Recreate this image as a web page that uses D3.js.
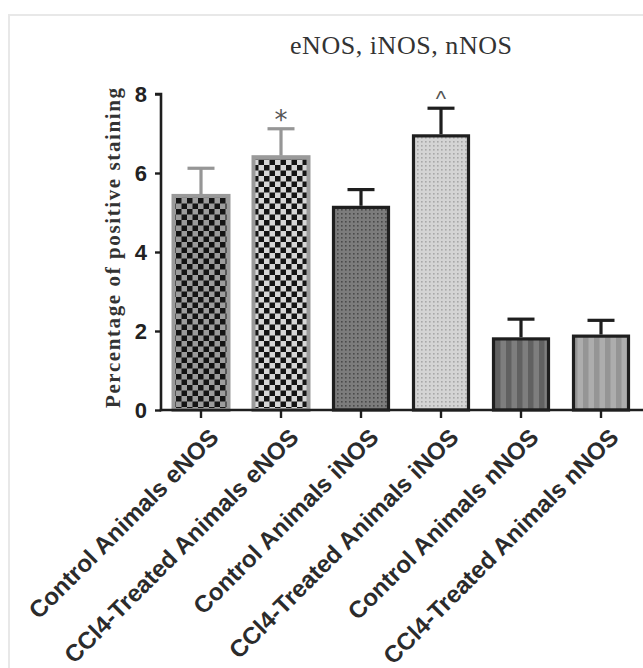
<!DOCTYPE html>
<html>
<head>
<meta charset="utf-8">
<script src="https://cdn.jsdelivr.net/npm/d3@7"></script>
<style>
  html, body { margin: 0; padding: 0; background: #fff; }
  svg { display: block; }
</style>
</head>
<body>
<script>
// ---- data ----
const categories = [
  "Control Animals eNOS",
  "CCl4-Treated Animals eNOS",
  "Control Animals iNOS",
  "CCl4-Treated Animals iNOS",
  "Control Animals nNOS",
  "CCl4-Treated Animals nNOS"
];
const means  = [5.42, 6.40, 5.13, 6.94, 1.80, 1.87];
const errors = [0.70, 0.72, 0.45, 0.70, 0.50, 0.40];
const marks  = ["", "*", "", "^", "", ""];
const yTicks = [0, 2, 4, 6, 8];
const title = "eNOS, iNOS, nNOS";
const yTitle = "Percentage of positive staining";

// ---- styling (not data) ----
const W = 643, H = 668;
const svg = d3.select("body").append("svg").attr("width", W).attr("height", H);

// frame
svg.append("rect").attr("x", 9).attr("y", 15).attr("width", 700).attr("height", 700)
  .attr("fill", "none").attr("stroke", "#e8e8e8").attr("stroke-width", 2);

const defs = svg.append("defs");
function checker(id, light) {
  const p = defs.append("pattern").attr("id", id).attr("patternUnits", "userSpaceOnUse")
    .attr("width", 11).attr("height", 11);
  p.append("rect").attr("width", 11).attr("height", 11).attr("fill", light);
  p.append("rect").attr("width", 5.5).attr("height", 5.5).attr("fill", "#141414");
  p.append("rect").attr("x", 5.5).attr("y", 5.5).attr("width", 5.5).attr("height", 5.5).attr("fill", "#141414");
}
function dots(id, bg, dot) {
  const p = defs.append("pattern").attr("id", id).attr("patternUnits", "userSpaceOnUse")
    .attr("width", 4).attr("height", 4);
  p.append("rect").attr("width", 4).attr("height", 4).attr("fill", bg);
  p.append("rect").attr("x", 1).attr("y", 1).attr("width", 1.6).attr("height", 1.6).attr("fill", dot);
}
function stripes(id, a, b) {
  const p = defs.append("pattern").attr("id", id).attr("patternUnits", "userSpaceOnUse")
    .attr("width", 11).attr("height", 10);
  p.append("rect").attr("width", 11).attr("height", 10).attr("fill", a);
  p.append("rect").attr("x", 5.5).attr("width", 5.5).attr("height", 10).attr("fill", b);
}
checker("p0", "#9c9c9c");
checker("p1", "#d6d6d6");
dots("p2", "#7c7c7c", "#4a4a4a");
dots("p3", "#d4d4d4", "#a8a8a8");
stripes("p4", "#616161", "#7e7e7e");
stripes("p5", "#959595", "#adadad");
const fills = ["url(#p0)", "url(#p1)", "url(#p2)", "url(#p3)", "url(#p4)", "url(#p5)"];
const strokes = ["#9a9a9a", "#9a9a9a", "#1e1e1e", "#1e1e1e", "#1e1e1e", "#1e1e1e"];
const errCols = ["#969696", "#969696", "#1e1e1e", "#1e1e1e", "#1e1e1e", "#1e1e1e"];

const x = d3.scaleBand().domain(categories).range([161, 641])
  .paddingInner(0.3125).paddingOuter(0.15625);
const y = d3.scaleLinear().domain([0, 8]).range([410, 94]);

// bars
const g = svg.append("g");
g.selectAll("rect.bar").data(categories).join("rect").attr("class", "bar")
  .attr("x", d => x(d)).attr("width", x.bandwidth())
  .attr("y", (d, i) => y(means[i])).attr("height", (d, i) => y(0) - y(means[i]))
  .attr("fill", (d, i) => fills[i]).attr("stroke", (d, i) => strokes[i])
  .attr("stroke-width", (d, i) => i < 2 ? 4 : 3.2);

// error bars
categories.forEach((c, i) => {
  const cx = x(c) + x.bandwidth() / 2;
  const top = y(means[i] + errors[i]);
  g.append("line").attr("x1", cx).attr("x2", cx).attr("y1", y(means[i]) - 1.6).attr("y2", top)
    .attr("stroke", errCols[i]).attr("stroke-width", 3.2);
  g.append("line").attr("x1", cx - 13.5).attr("x2", cx + 13.5).attr("y1", top).attr("y2", top)
    .attr("stroke", errCols[i]).attr("stroke-width", 3.2);
  if (marks[i]) {
    const star = marks[i] === "*";
    g.append("text").attr("x", cx).attr("y", top - (star ? 0 : 2))
      .attr("text-anchor", "middle")
      .attr("font-family", star ? "DejaVu Sans, sans-serif" : "Liberation Sans, sans-serif")
      .attr("font-size", star ? 26 : 22).attr("fill", "#555")
      .text(marks[i]);
  }
});

// y axis
const yAxis = svg.append("g").attr("transform", "translate(161,0)")
  .call(d3.axisLeft(y).tickValues(yTicks).tickFormat(d3.format("d")).tickSize(6).tickPadding(8));
yAxis.select(".domain").attr("stroke", "#1e1e1e").attr("stroke-width", 2.6)
  .attr("d", `M-6,${y(8)}H0V${y(0) + 1.3}`);
yAxis.selectAll(".tick line").attr("stroke", "#1e1e1e").attr("stroke-width", 2.4);
yAxis.selectAll(".tick text").attr("font-family", "Liberation Sans, Arial, sans-serif")
  .attr("font-weight", "bold").attr("font-size", 22).attr("fill", "#222");

// x axis
const xAxis = svg.append("g").attr("transform", "translate(0,410)")
  .call(d3.axisBottom(x).tickSize(8).tickFormat(""));
xAxis.select(".domain").attr("stroke", "#1e1e1e").attr("stroke-width", 2.6)
  .attr("d", "M159.7,0H643");
xAxis.selectAll(".tick line").attr("stroke", "#1e1e1e").attr("stroke-width", 2.4);

// rotated category labels
svg.append("g").selectAll("text").data(categories).join("text")
  .attr("transform", d => `translate(${x(d) + x.bandwidth() / 2 + 19},${439}) rotate(-45)`)
  .attr("text-anchor", "end")
  .attr("font-family", "Liberation Sans, Arial, sans-serif")
  .attr("font-weight", "bold").attr("font-size", 24).attr("fill", "#2b2b2b")
  .text(d => d);

// title
svg.append("text").attr("x", 401).attr("y", 54).attr("text-anchor", "middle")
  .attr("font-family", "Liberation Serif, Times New Roman, serif")
  .attr("font-size", 26).attr("fill", "#333")
  .attr("textLength", 222).attr("lengthAdjust", "spacing")
  .text(title);

// y title
svg.append("text").attr("transform", "translate(120,248) rotate(-90)")
  .attr("text-anchor", "middle")
  .attr("font-family", "Liberation Serif, Times New Roman, serif")
  .attr("font-weight", "bold")
  .attr("font-size", 21).attr("fill", "#333")
  .attr("textLength", 320).attr("lengthAdjust", "spacing")
  .text(yTitle);
</script>
</body>
</html>
